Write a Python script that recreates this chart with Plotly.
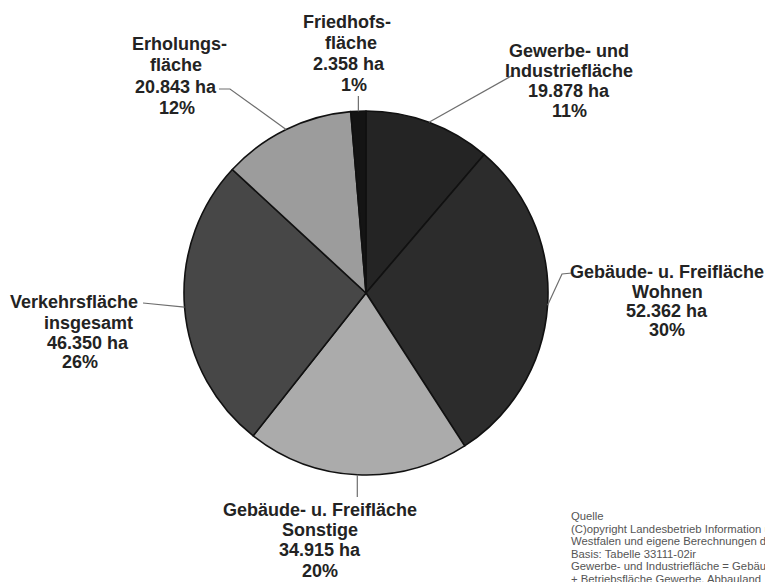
import math
import plotly.graph_objects as go

# Flächennutzung nach Nutzungsarten (ha)
categories = [
    "Gewerbe- und Industriefläche",
    "Gebäude- u. Freifläche Wohnen",
    "Gebäude- u. Freifläche Sonstige",
    "Verkehrsfläche insgesamt",
    "Erholungsfläche",
    "Friedhofsfläche",
]
values_ha = [19878, 52362, 34915, 46350, 20843, 2358]
label_lines = [
    ["Gewerbe- und", "Industriefläche"],
    ["Gebäude- u. Freifläche", "Wohnen"],
    ["Gebäude- u. Freifläche", "Sonstige"],
    ["Verkehrsfläche", "insgesamt"],
    ["Erholungs-", "fläche"],
    ["Friedhofs-", "fläche"],
]
slice_colors = ["#242424", "#2c2c2c", "#ababab", "#474747", "#9c9c9c", "#141414"]

source_lines = [
    "Quelle",
    "(C)opyright Landesbetrieb Information und Technik Nordrhein-",
    "Westfalen und eigene Berechnungen der Stadt",
    "Basis: Tabelle 33111-02ir",
    "Gewerbe- und Industriefläche = Gebäude- und Freifläche",
    "+ Betriebsfläche Gewerbe, Abbauland",
]

W, H = 765, 582
CX, CY, R = 366, 293, 182  # pie centre and radius in pixels


def px(x):
    return x / W


def py(y):
    return 1 - y / H


def fmt_ha(v):
    return f"{v:,}".replace(",", ".") + " ha"


total = sum(values_ha)

# label block layout: centre x and y of each text line (pixels)
label_layout = [
    dict(x=[569, 569, 569, 569], y=[51, 71, 91, 111]),
    dict(x=[667, 667, 667, 667], y=[272, 292, 311, 330]),
    dict(x=[320, 320, 320, 320], y=[510, 530, 550, 571]),
    dict(x=[74, 88, 88, 80], y=[302, 323, 343, 362]),
    dict(x=[179, 176, 176, 177], y=[44, 65, 87, 108]),
    dict(x=[347, 351, 349, 354], y=[22, 43, 64, 85]),
]
# leader line knots from the label side towards the pie rim
leader_knots = [
    [(513, 75)],
    [(572, 273), (562, 274)],
    [(None, 497)],
    [(143, 303)],
    [(219, 89), (230, 89)],
    [(None, 96)],
]

fig = go.Figure(
    go.Pie(
        labels=categories,
        values=values_ha,
        sort=False,
        direction="clockwise",
        rotation=0,
        marker=dict(colors=slice_colors, line=dict(color="#111111", width=1.6)),
        textinfo="none",
        hoverinfo="label+value+percent",
        showlegend=False,
        domain=dict(x=[px(CX - R), px(CX + R)], y=[py(CY + R), py(CY - R)]),
    )
)

annotations = []
shapes = []
font = dict(family="Liberation Sans, Arial, sans-serif", size=18, color="#232323")

cum = 0
for i, v in enumerate(values_ha):
    share = v / total
    mid = 2 * math.pi * (cum + v / 2) / total
    cum += v
    ex = CX + R * math.sin(mid)
    ey = CY - R * math.cos(mid)

    lines = label_lines[i] + [fmt_ha(v), f"{round(share * 100)}%"]
    lay = label_layout[i]
    for t, lx, ly in zip(lines, lay["x"], lay["y"]):
        annotations.append(
            dict(
                x=px(lx), y=py(ly), xref="paper", yref="paper",
                text=f"<b>{t}</b>", showarrow=False,
                xanchor="center", yanchor="middle", font=font,
            )
        )

    pts = [(ex if kx is None else kx, ky) for kx, ky in leader_knots[i]]
    path = f"M{px(pts[0][0])},{py(pts[0][1])}"
    for kx, ky in pts[1:]:
        path += f" L{px(kx)},{py(ky)}"
    path += f" L{px(ex)},{py(ey)}"
    shapes.append(
        dict(type="path", xref="paper", yref="paper", path=path,
             line=dict(color="#6e6e6e", width=1.2))
    )

# source note, running off the right-hand edge of the page
for k, t in enumerate(source_lines):
    annotations.append(
        dict(
            x=px(569), y=py(516 + k * 12.6), xref="paper", yref="paper",
            text=t, showarrow=False, xanchor="left", yanchor="middle",
            font=dict(family="Liberation Sans, Arial, sans-serif", size=11.3, color="#555555"),
        )
    )

fig.update_layout(
    width=W, height=H,
    margin=dict(l=0, r=0, t=0, b=0),
    paper_bgcolor="white",
    plot_bgcolor="white",
    annotations=annotations,
    shapes=shapes,
)

fig.write_html("out.html")
